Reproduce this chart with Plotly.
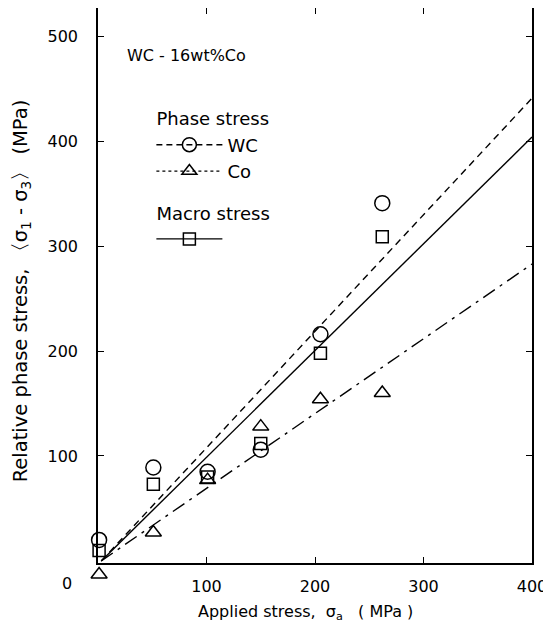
import plotly.graph_objects as go

# Measured points (applied stress, MPa)
x_pts = [1, 51, 101, 150, 205, 262]
wc_vals = [20, 89, 85, 106, 216, 341]
co_vals = [-13, 27, 77, 128, 154, 160]
macro_vals = [10, 73, 80, 112, 198, 309]

# Fitted lines
fit_x = [3, 400]
wc_fit = [0, 441]
co_fit = [0, 283]
macro_fit = [0, 404]

x_ticks = [100, 200, 300, 400]
y_ticks = [100, 200, 300, 400, 500]

FONT = "DejaVu Sans"
blk = "black"

# geometry: full plotting area 572 px tall, main axes occupy top 555 px
H_FULL = 572.0
H_MAIN = 555.0
Y_RANGE = [-2, 527]
y_dom0 = (H_FULL - H_MAIN) / H_FULL
px_per_unit = H_MAIN / (Y_RANGE[1] - Y_RANGE[0])
y2_range = [Y_RANGE[1] - H_FULL / px_per_unit, Y_RANGE[1]]

fig = go.Figure()

# fitted lines
fig.add_trace(go.Scatter(x=fit_x, y=wc_fit, mode="lines",
                         line=dict(color=blk, width=1.4, dash="7px,5px"), showlegend=False))
fig.add_trace(go.Scatter(x=fit_x, y=macro_fit, mode="lines",
                         line=dict(color=blk, width=1.4), showlegend=False))
fig.add_trace(go.Scatter(x=fit_x, y=co_fit, mode="lines",
                         line=dict(color=blk, width=1.4, dash="14px,6px,3px,6px"), showlegend=False))

# markers (on an overlaid, equally scaled axis pair so the point below zero stays visible)
mk = dict(color=blk, size=14, line=dict(color=blk, width=1.5))
fig.add_trace(go.Scatter(x=x_pts, y=co_vals, mode="markers", cliponaxis=False,
                         xaxis="x2", yaxis="y2",
                         marker=dict(mk, symbol="triangle-up-open", size=14), showlegend=False))
fig.add_trace(go.Scatter(x=x_pts, y=macro_vals, mode="markers", cliponaxis=False,
                         xaxis="x2", yaxis="y2",
                         marker=dict(mk, symbol="square-open", size=12), showlegend=False))
fig.add_trace(go.Scatter(x=x_pts, y=wc_vals, mode="markers", cliponaxis=False,
                         xaxis="x2", yaxis="y2",
                         marker=dict(mk, symbol="circle-open", size=15), showlegend=False))

# legend entries
fig.add_trace(go.Scatter(x=[None], y=[None], mode="lines+markers", name="WC",
                         legendgroup="phase", legendgrouptitle=dict(text="Phase stress"),
                         line=dict(color=blk, width=1.4, dash="6px,4px"),
                         marker=dict(symbol="circle-open", size=14, color=blk, line=dict(width=1.5))))
fig.add_trace(go.Scatter(x=[None], y=[None], mode="lines+markers", name="Co",
                         legendgroup="phase",
                         line=dict(color=blk, width=1.4, dash="dot"),
                         marker=dict(symbol="triangle-up-open", size=13, color=blk, line=dict(width=1.5))))
fig.add_trace(go.Scatter(x=[None], y=[None], mode="lines+markers", name=" ",
                         legendgroup="macro", legendgrouptitle=dict(text="Macro stress"),
                         line=dict(color=blk, width=1.4),
                         marker=dict(symbol="square-open", size=12, color=blk, line=dict(width=1.5))))

axis_common = dict(showline=True, linecolor=blk, linewidth=1.5, mirror="ticks",
                   ticks="inside", ticklen=6, tickwidth=1.2, tickcolor=blk,
                   showgrid=False, zeroline=False, automargin=False,
                   tickfont=dict(family=FONT, size=16, color=blk))

fig.update_layout(
    width=551, height=635,
    margin=dict(l=90, r=27, t=0, b=635 - H_FULL),
    paper_bgcolor="white", plot_bgcolor="rgba(0,0,0,0)",
    font=dict(family=FONT, color=blk),
    xaxis=dict(axis_common, range=[0, 400], tickvals=x_ticks, ticklabelstandoff=8,
               domain=[0, 1], anchor="y"),
    yaxis=dict(axis_common, range=Y_RANGE, tickvals=y_ticks, ticklabelstandoff=15,
               domain=[y_dom0, 1], anchor="x"),
    xaxis2=dict(range=[0, 400], domain=[0, 1], anchor="y2", visible=False),
    yaxis2=dict(range=y2_range, domain=[0, 1], anchor="x2", visible=False),
    legend=dict(x=0.123, y=0.839, xanchor="left", yanchor="top",
                bgcolor="rgba(0,0,0,0)", font=dict(family=FONT, size=18, color=blk),
                tracegroupgap=15, itemwidth=66,
                grouptitlefont=dict(family=FONT, size=18, color=blk)),
    annotations=[
        dict(text="WC - 16wt%Co", x=25, y=482, xref="x", yref="y",
             xanchor="left", yanchor="middle", showarrow=False,
             font=dict(family=FONT, size=16, color=blk)),
        dict(text="0", x=0, y=0, xref="x", yref="y", xanchor="center", yanchor="middle",
             xshift=-31, yshift=-23, showarrow=False,
             font=dict(family=FONT, size=16, color=blk)),
        dict(text="Applied stress,  σ<sub>a</sub>   ( MPa )", x=191, y=-0.056,
             xref="x", yref="paper", xanchor="center", yanchor="middle",
             showarrow=False, font=dict(family=FONT, size=16, color=blk)),
        dict(text="Relative phase stress, 〈σ<sub>1</sub> - σ<sub>3</sub>〉 (MPa)",
             x=-0.177, y=0.505, xref="paper", yref="paper", textangle=-90,
             xanchor="center", yanchor="middle", showarrow=False,
             font=dict(family=FONT, size=19.5, color=blk)),
    ],
)

fig.write_html("out.html")
